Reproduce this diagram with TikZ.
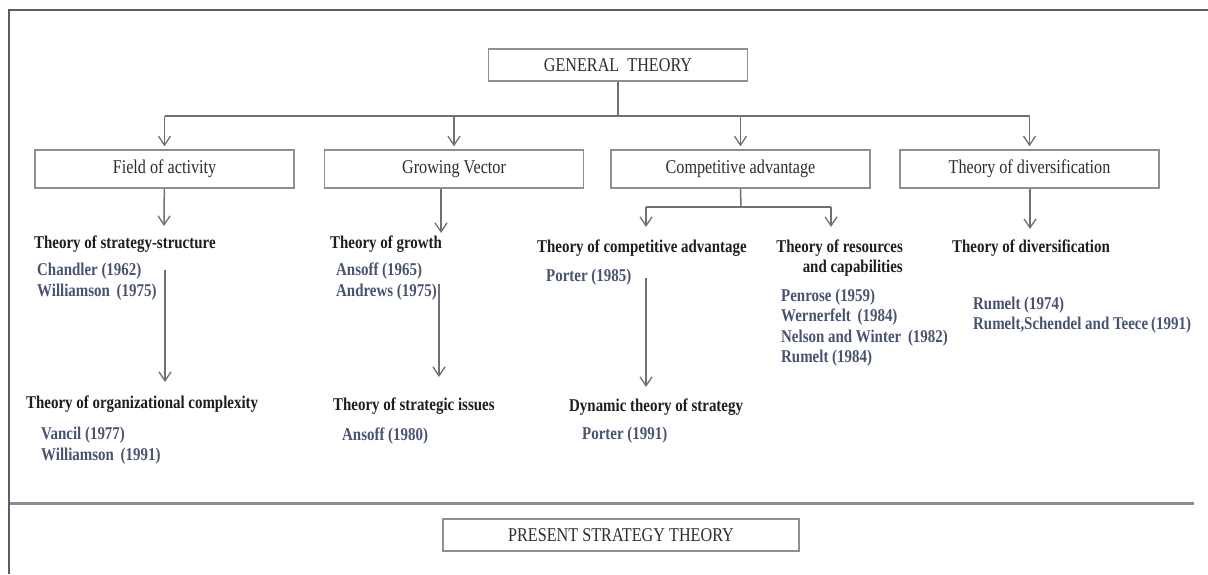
\documentclass[tikz,border=0pt]{standalone}
\usepackage{fontspec}
\setmainfont[FakeStretch=0.83]{Liberation Serif}
\usetikzlibrary{arrows.meta}

\definecolor{framecol}{HTML}{5B5B6B}
\definecolor{linecol}{HTML}{707070}
\definecolor{boxcol}{HTML}{8F8F8F}
\definecolor{sepcol}{HTML}{8C8C96}
\definecolor{headcol}{HTML}{1E1E1E}
\definecolor{refcol}{HTML}{4A5272}
\definecolor{labcol}{HTML}{2E2E2E}

\tikzset{
  x=1pt, y=-1pt,
  box/.style={draw=boxcol, line width=1.4pt, fill=white, inner sep=0pt,
              minimum width=259pt, minimum height=38pt, text=labcol,
              font=\fontsize{19.5}{20}\selectfont},
  capbox/.style={box, minimum height=32pt, font=\fontsize{19.5}{20}\selectfont},
  head/.style={anchor=west, inner sep=0pt, text=headcol,
               font=\fontsize{18}{20}\selectfont\bfseries},
  refs/.style={anchor=west, inner sep=0pt, text=refcol, align=left,
               font=\fontsize{18}{20.5}\selectfont\bfseries},
  link/.style={draw=linecol, line width=1.5pt},
  arr/.style={link, -{Straight Barb[length=9pt,width=12pt,line width=1.3pt]}},
}

\begin{document}
\begin{tikzpicture}
\useasboundingbox (0,0) rectangle (1208,574);

% outer frame (open to the right and bottom)
\draw[framecol, line width=2.5pt] (9,574) -- (9,10) -- (1208,10);

% top level
\node[capbox] (gt) at (618,65) {GENERAL\ \ THEORY};

% second row of boxes
\node[box] (field)  at (164.5,169) {Field of activity};
\node[box] (grow)   at (454,169)   {Growing Vector};
\node[box] (comp)   at (740.5,169) {Competitive advantage};
\node[box] (div)    at (1029.5,169){Theory of diversification};

% bus from the top box to the second row
\coordinate (bus) at (618,116);
\draw[link] (gt.south) -- (bus);
\draw[link] (field |- bus) -- (div |- bus);
\foreach \b in {field,grow,comp,div}
  \draw[arr, shorten >=3pt] (\b |- bus) -- (\b.north);

% ---- column 1: field of activity
\node[head] (tss) at (34,244) {Theory of strategy-structure};
\node[refs] (r1) at (37,281.5) {Chandler (1962)\\Williamson\ \,(1975)};
\node[head] (toc) at (26,404) {Theory of organizational complexity};
\node[refs] (r2) at (41,445.5) {Vancil (1977)\\Williamson\ \,(1991)};
\coordinate (c1a) at (164,226);
\draw[arr] (field) -- (c1a);
\coordinate (c1s) at (165,270);
\coordinate (c1e) at (165,382);
\draw[arr] (c1s) -- (c1e);

% ---- column 2: growing vector
\node[head] (tg) at (330,244) {Theory of growth};
\node[refs] (r3) at (336,281.5) {Ansoff (1965)\\Andrews (1975)};
\node[head] (tsi) at (333,406) {Theory of strategic issues};
\node[refs] (r4) at (342,436) {Ansoff (1980)};
\coordinate (c2a) at (441,233);
\draw[arr] (grow.south -| c2a) -- (c2a);
\coordinate (c2s) at (439,284);
\coordinate (c2e) at (439,377);
\draw[arr] (c2s) -- (c2e);

% ---- column 3: competitive advantage
\node[head] (tca) at (537,248) {Theory of competitive advantage};
\node[refs] (r5) at (546,277) {Porter (1985)};
\node[head] (dts) at (569,407) {Dynamic theory of strategy};
\node[refs] (r6) at (582,435) {Porter (1991)};
\node[head, anchor=east, align=right] (trc) at (903,258)
  {Theory of resources\\and capabilities};
\node[refs] (r7) at (781,327.5)
  {Penrose (1959)\\Wernerfelt\ \,(1984)\\Nelson and Winter\ \,(1982)\\Rumelt (1984)};
\coordinate (split) at (741,207);
\coordinate (c3l) at (646,227);
\coordinate (c3r) at (831,227);
\draw[link] (comp.south) -- (split);
\draw[link] (c3l |- split) -- (c3r |- split);
\draw[arr] (c3l |- split) -- (c3l);
\draw[arr] (c3r |- split) -- (c3r);
\coordinate (c3s) at (646,278);
\coordinate (c3e) at (646,387);
\draw[arr] (c3s) -- (c3e);

% ---- column 4: diversification
\node[head] (tdv) at (952,248) {Theory of diversification};
\node[refs] (r8) at (973,315) {Rumelt (1974)\\Rumelt,Schendel and Teece\,(1991)};
\coordinate (c4a) at (1030,229);
\draw[arr] (div.south -| c4a) -- (c4a);

% separator and present theory
\coordinate (sepl) at (10,503);
\coordinate (sepr) at (1194,503);
\draw[sepcol, line width=3pt] (sepl) -- (sepr);
\node[capbox, minimum width=356pt] (pst) at (621,535) {PRESENT STRATEGY THEORY};

\end{tikzpicture}
\end{document}
